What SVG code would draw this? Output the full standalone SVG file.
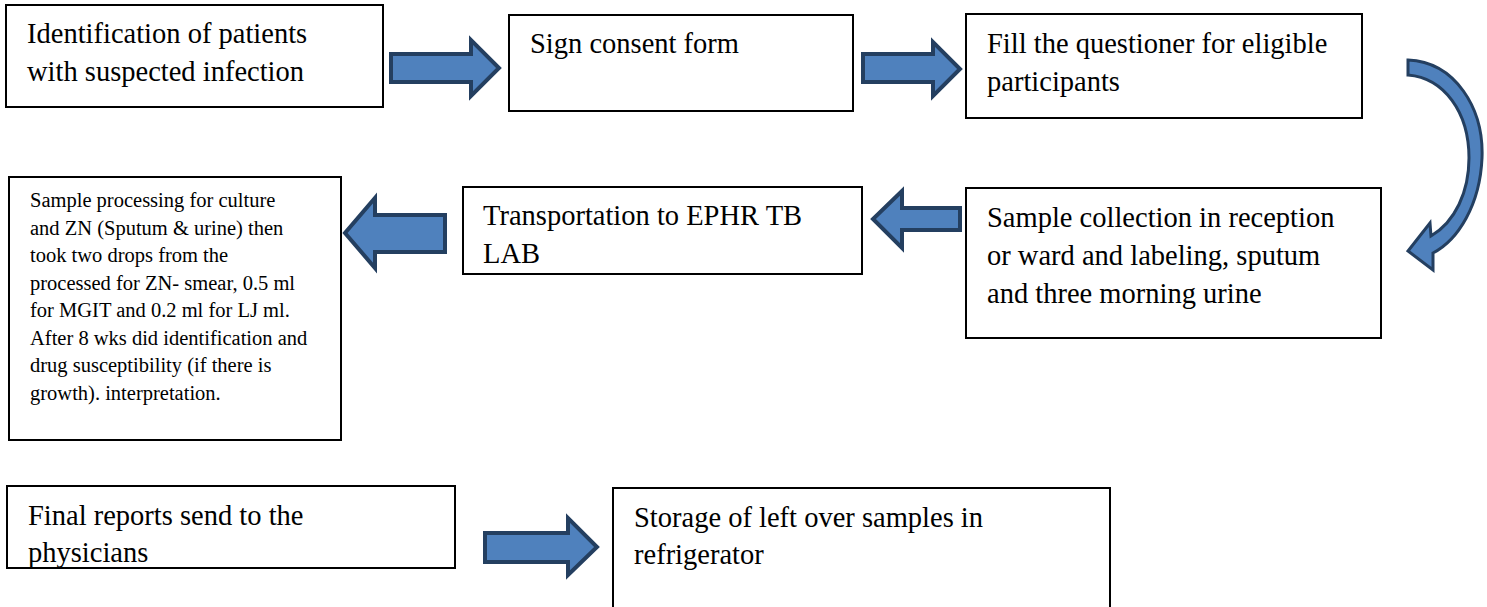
<svg xmlns="http://www.w3.org/2000/svg" width="1487" height="607" viewBox="0 0 1487 607">
<style>
.box{fill:#fff;stroke:#000;stroke-width:2}
.t{font-family:"Liberation Serif","Times New Roman",serif;font-size:28.5px;fill:#000}
.s{font-family:"Liberation Serif","Times New Roman",serif;font-size:20.5px;fill:#000}
.arr{fill:#4f81bd;stroke:#243f60;stroke-width:4;stroke-linejoin:miter}
.carr{fill:#4f81bd;stroke:#243f60;stroke-width:3;stroke-linejoin:miter}
</style>
<rect width="1487" height="607" fill="#fff"/>
<g id="n1"><rect class="box" x="6" y="5" width="377" height="102"/>
<text class="t" x="27" y="43">Identification of patients</text>
<text class="t" x="27" y="81">with suspected infection</text></g>
<g id="n2"><rect class="box" x="509" y="15" width="344" height="96"/>
<text class="t" x="530" y="53">Sign consent form</text></g>
<g id="n3"><rect class="box" x="966" y="14" width="396" height="104"/>
<text class="t" x="987" y="53">Fill the questioner for eligible</text>
<text class="t" x="987" y="91">participants</text></g>
<g id="n4"><rect class="box" x="966" y="188" width="415" height="150"/>
<text class="t" x="987" y="227">Sample collection in reception</text>
<text class="t" x="987" y="265">or ward and labeling, sputum</text>
<text class="t" x="987" y="303">and three morning urine</text></g>
<g id="n5"><rect class="box" x="463" y="187" width="399" height="87"/>
<text class="t" x="483" y="225">Transportation to EPHR TB</text>
<text class="t" x="483" y="263">LAB</text></g>
<g id="n6"><rect class="box" x="9" y="177" width="332" height="263"/>
<text class="s" x="30" y="207">Sample processing for culture</text>
<text class="s" x="30" y="234.5">and ZN (Sputum &amp; urine) then</text>
<text class="s" x="30" y="262">took two drops from the</text>
<text class="s" x="30" y="289.5">processed for ZN- smear, 0.5 ml</text>
<text class="s" x="30" y="317">for MGIT and 0.2 ml for LJ ml.</text>
<text class="s" x="30" y="344.5">After 8 wks did identification and</text>
<text class="s" x="30" y="372">drug susceptibility (if there is</text>
<text class="s" x="30" y="399.5">growth). interpretation.</text></g>
<g id="n7"><rect class="box" x="7" y="486" width="448" height="82"/>
<text class="t" x="28" y="525">Final reports send to the</text>
<text class="t" x="28" y="562">physicians</text></g>
<g id="n8"><rect class="box" x="613" y="488" width="497" height="125"/>
<text class="t" x="634" y="527">Storage of left over samples in</text>
<text class="t" x="634" y="564">refrigerator</text></g>
<g id="connectors">
<polygon class="arr" points="391,54 471,54 471,40 499,68 471,96 471,82 391,82"/>
<polygon class="arr" points="863,54 933,54 933,42 960,69 933,96 933,82 863,82"/>
<polygon class="arr" points="960,208 902,208 902,191 873,219 902,248 902,230 960,230"/>
<polygon class="arr" points="445,215 375,215 375,198 345,233 375,268 375,252 445,252"/>
<polygon class="arr" points="485,533 568,533 568,518 597,547 568,575 568,562 485,562"/>
<path class="carr" d="M1408,60 C1455,62 1484,108 1482,158 C1480,205 1458,240 1433,253 L1433,270 L1408,251 L1430,223 L1431,236 C1455,222 1469,192 1469,158 C1469,112 1444,78 1408,75 Z"/>
</g>
</svg>
